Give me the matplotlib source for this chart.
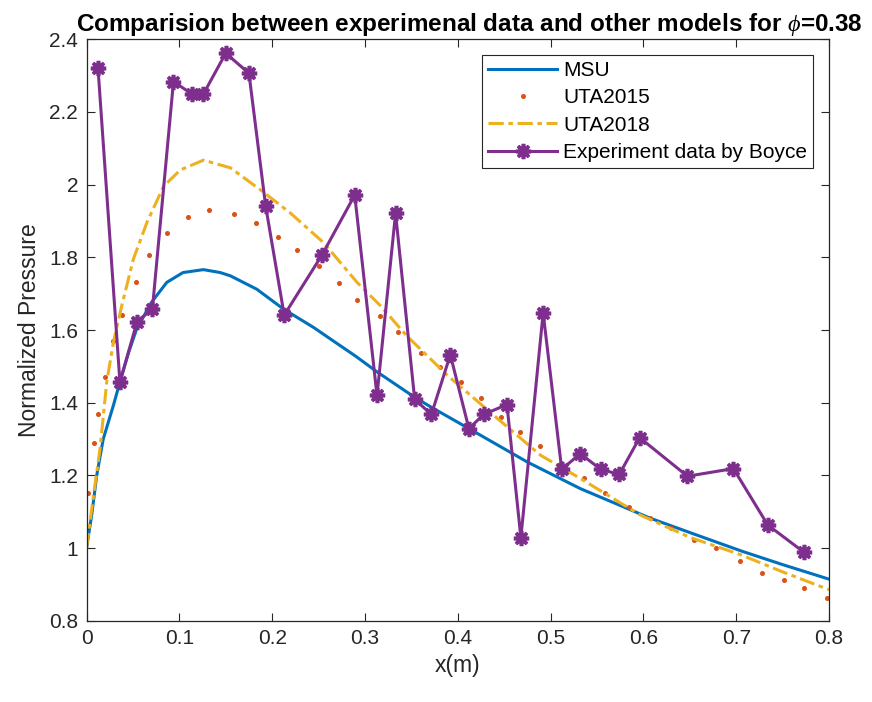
import numpy as np
import matplotlib.pyplot as plt

plt.rcParams['font.family'] = ['Liberation Sans', 'DejaVu Sans']
plt.rcParams['mathtext.fontset'] = 'custom'
plt.rcParams['mathtext.it'] = 'Liberation Serif:italic'

# MSU model curve
msu_x = [0.0, 0.0056, 0.011, 0.018, 0.029, 0.036, 0.045, 0.054, 0.070, 0.0865, 0.104,
         0.126, 0.144, 0.155, 0.1836, 0.212, 0.2447, 0.263, 0.29, 0.313, 0.3536, 0.372,
         0.412, 0.475, 0.532, 0.608, 0.66, 0.706, 0.75, 0.8]
msu_y = [1.0, 1.091, 1.20, 1.30, 1.393, 1.457, 1.535, 1.603, 1.676, 1.731, 1.758,
         1.766, 1.758, 1.749, 1.712, 1.658, 1.607, 1.575, 1.528, 1.485, 1.415, 1.387,
         1.329, 1.237, 1.164, 1.082, 1.034, 0.992, 0.955, 0.915]

# UTA2015 model (dotted)
uta15_x = [0.002, 0.008, 0.0127, 0.02, 0.029, 0.038, 0.0534, 0.0674, 0.0865, 0.109, 0.132,
           0.159, 0.1825, 0.206, 0.227, 0.25, 0.272, 0.2915, 0.316, 0.336, 0.3605, 0.381,
           0.403, 0.425, 0.447, 0.467, 0.4885, 0.511, 0.536, 0.559, 0.5845, 0.607, 0.63,
           0.654, 0.678, 0.704, 0.728, 0.752, 0.773, 0.798]
uta15_y = [1.153, 1.288, 1.368, 1.47, 1.57, 1.642, 1.731, 1.805, 1.868, 1.911, 1.929,
           1.918, 1.895, 1.855, 1.82, 1.775, 1.729, 1.683, 1.639, 1.594, 1.537, 1.497,
           1.457, 1.413, 1.361, 1.32, 1.28, 1.235, 1.192, 1.152, 1.114, 1.083, 1.055,
           1.023, 1.0, 0.965, 0.932, 0.913, 0.892, 0.863]

# UTA2018 model (dash-dot)
uta18_x = [0.0, 0.0073, 0.0146, 0.0218, 0.029, 0.038, 0.0505, 0.065, 0.083, 0.101, 0.126,
           0.155, 0.187, 0.2195, 0.2555, 0.2915, 0.3166, 0.345, 0.389, 0.439, 0.489,
           0.532, 0.597, 0.65, 0.705, 0.75, 0.8]
uta18_y = [1.0, 1.14, 1.274, 1.457, 1.566, 1.667, 1.795, 1.895, 1.995, 2.04, 2.067,
           2.046, 1.986, 1.922, 1.84, 1.731, 1.667, 1.584, 1.475, 1.365, 1.256,
           1.192, 1.091, 1.03, 0.982, 0.935, 0.886]

# Experiment data by Boyce
exp_x = [0.0124, 0.036, 0.0545, 0.071, 0.0937, 0.1135, 0.126, 0.150, 0.175, 0.193, 0.213,
         0.2537, 0.289, 0.313, 0.333, 0.3536, 0.3716, 0.392, 0.412, 0.428, 0.453, 0.468,
         0.492, 0.512, 0.532, 0.554, 0.574, 0.596, 0.6475, 0.697, 0.734, 0.773]
exp_y = [2.32, 1.457, 1.623, 1.658, 2.283, 2.249, 2.249, 2.361, 2.306, 1.941, 1.641,
         1.806, 1.971, 1.42, 1.921, 1.409, 1.368, 1.532, 1.329, 1.368, 1.395, 1.029,
         1.647, 1.217, 1.26, 1.217, 1.203, 1.304, 1.198, 1.219, 1.064, 0.989]

fig = plt.figure(figsize=(8.72, 7.02), dpi=100)
ax = fig.add_axes([0.0992, 0.1154, 0.8515, 0.829])

ax.plot(msu_x, msu_y, color='#0072BD', lw=2.2, label='MSU')
ax.plot(uta15_x, uta15_y, ls='none', marker='o', ms=2.6, color='#D95319',
        mec='#D95319', label='UTA2015')
ax.plot(uta18_x, uta18_y, color='#EDB120', lw=2.2, ls=(0, (5, 1.5, 1.5, 1.5)),
        label='UTA2018')
ax.plot(exp_x, exp_y, color='#7E2F8E', lw=2.2, marker=(8, 2, 0), ms=11, mew=2.6,
        label='Experiment data by Boyce')

ax.set_xlim(0, 0.8)
ax.set_ylim(0.8, 2.4)
ax.set_xticks(np.arange(0, 0.81, 0.1))
ax.set_yticks(np.arange(0.8, 2.41, 0.2))
ax.set_xticklabels(['0', '0.1', '0.2', '0.3', '0.4', '0.5', '0.6', '0.7', '0.8'])
ax.set_yticklabels(['0.8', '1', '1.2', '1.4', '1.6', '1.8', '2', '2.2', '2.4'])
ax.tick_params(direction='in', top=True, right=True, labelsize=15, colors='#262626',
               length=6, width=0.8, pad=6)
for s in ax.spines.values():
    s.set_color('#262626')
    s.set_linewidth(0.9)

ax.set_xlabel('x(m)', fontsize=16.5, color='#262626', labelpad=4)
ax.set_ylabel('Normalized Pressure', fontsize=16.5, color='#262626', labelpad=6)
ax.set_title(r'Comparision between experimenal data and other models for $\phi$=0.38',
             fontsize=17.5, fontweight='bold', pad=6, x=0.516)

leg = ax.legend(loc='upper right', fontsize=15, handlelength=3.3, borderaxespad=0.75,
                labelspacing=0.4, handletextpad=0.3, fancybox=False, framealpha=1,
                borderpad=0.3)
leg.get_frame().set_edgecolor('#262626')
leg.get_frame().set_linewidth(0.8)

fig.savefig('out.png', dpi=100)
